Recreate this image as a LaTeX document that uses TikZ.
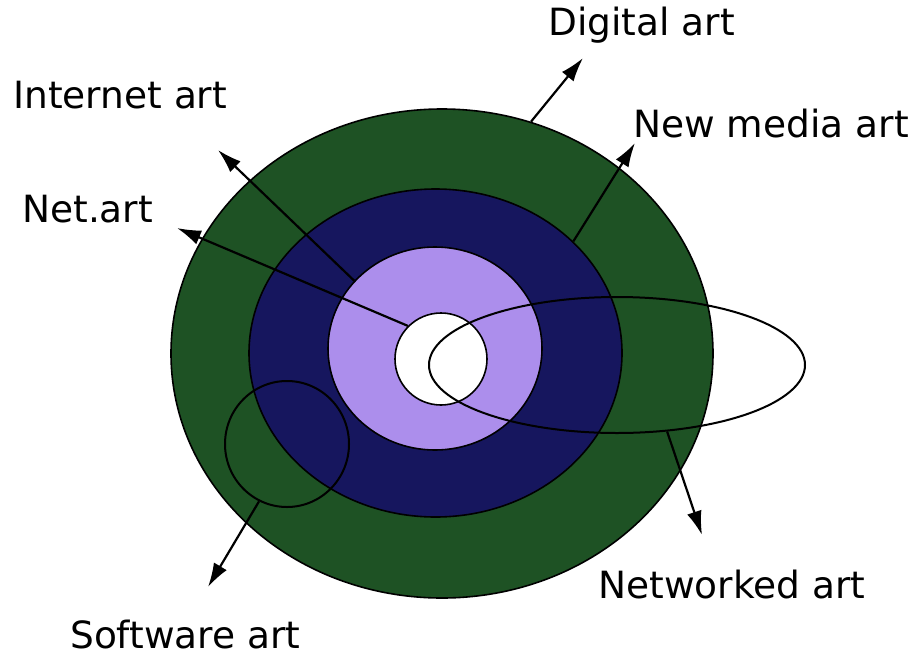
\documentclass[tikz,border=0pt]{standalone}
\usepackage{fontspec}
\setmainfont{DejaVu Sans}
\usetikzlibrary{arrows.meta,shapes.geometric}
\definecolor{darkgreen}{RGB}{30,82,36}
\definecolor{navy}{RGB}{22,22,94}
\definecolor{lavender}{RGB}{172,142,236}

\begin{document}
\begin{tikzpicture}[x=1pt,y=-1pt,
 ring/.style={draw=black,ellipse,inner sep=0pt,line width=1.6pt},
 outline/.style={draw=black,ellipse,inner sep=0pt,line width=2pt},
 lbl/.style={font=\fontsize{37.5}{44}\selectfont,inner sep=0pt,anchor=base west},
 arr/.style={-{Latex[length=24pt,width=15pt]},line width=2.2pt}]
\useasboundingbox (0,0) rectangle (918,659);
% rings
\node[ring,fill=darkgreen,minimum width=542pt,minimum height=489pt] (digital) at (442,353.5) {};
\node[ring,fill=navy,minimum width=373pt,minimum height=328pt] (newmedia) at (435.5,353) {};
\node[ring,fill=lavender,minimum width=214pt,minimum height=203pt] (internet) at (435,348.5) {};
\node[ring,circle,fill=white,minimum size=92pt] (netart) at (441,359) {};
\node[outline,minimum width=124pt,minimum height=126pt] (software) at (287,444) {};
\node[outline,minimum width=376pt,minimum height=136pt] (networked) at (617,365) {};
% labels
\node[lbl] (digitallbl) at (548,35) {Digital art};
\node[lbl] (internetlbl) at (13,108) {Internet art};
\node[lbl] (netartlbl) at (22,222) {Net.art};
\node[lbl] (newmedialbl) at (633,137) {New media art};
\node[lbl] (networkedlbl) at (598,598) {Networked art};
\node[lbl] (softwarelbl) at (70,648) {Software art};
% arrow tips
\coordinate (digitaltip) at (583,58);
\coordinate (newmediatip) at (635,143);
\coordinate (internettip) at (218,150);
\coordinate (netarttip) at (177,228);
\coordinate (networkedtip) at (702,535);
\coordinate (softwaretip) at (208,587);
\draw[arr] (digital.69)--(digitaltip);
\draw[arr] (newmedia.39)--(newmediatip);
\draw[arr] (internet.140)--(internettip);
\draw[arr] (netart.135)--(netarttip);
\draw[arr] (networked.-53)--(networkedtip);
\draw[arr] (software.244)--(softwaretip);
\end{tikzpicture}
\end{document}
